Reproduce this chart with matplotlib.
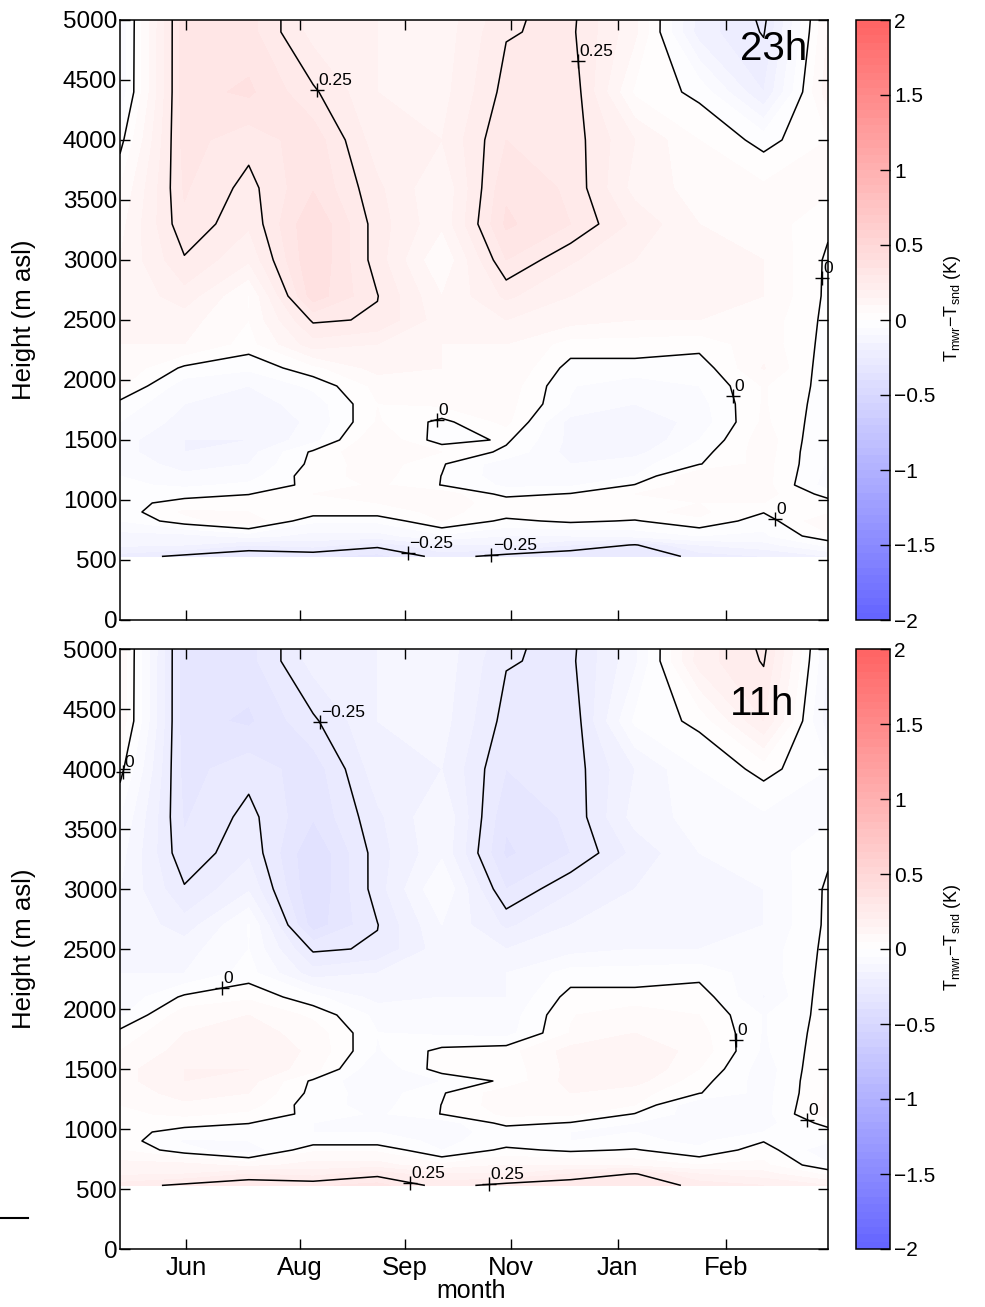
import numpy as np
import matplotlib
matplotlib.use("Agg")
import matplotlib.pyplot as plt
from matplotlib.colors import LinearSegmentedColormap
from matplotlib.lines import Line2D

plt.rcParams["font.family"] = ["Liberation Sans", "DejaVu Sans"]
plt.rcParams["mathtext.fontset"] = "custom"
plt.rcParams["mathtext.rm"] = "Liberation Sans"
plt.rcParams["mathtext.it"] = "Liberation Sans:italic"
plt.rcParams["axes.unicode_minus"] = True

# ---------------------------------------------------------------- data
# monthly columns (May ... Apr) and retrieval heights (m asl)
month_index = np.arange(12)
heights = np.array([530, 625, 700, 825, 900, 975, 1050, 1125, 1200, 1300,
                    1400, 1500, 1650, 1800, 1950, 2100, 2300, 2500, 2700,
                    3000, 3300, 3600, 4000, 4400, 4900, 5500])

# T_mwr - T_snd (K), night-time (23h) profiles, one row per height
dT_23h = np.array([
    [-0.222, -0.265, -0.300, -0.290, -0.320, -0.225, -0.273, -0.300, -0.300, -0.230, -0.200, -0.150],
    [-0.140, -0.150, -0.200, -0.180, -0.230, -0.160, -0.150, -0.200, -0.255, -0.150, -0.120, -0.037],
    [-0.120, -0.120, -0.080, -0.120, -0.120, -0.060, -0.100, -0.100, -0.080, -0.050, -0.060, 0.040],
    [-0.050, 0.031, 0.085, -0.040, -0.040, 0.051, -0.013, 0.011, -0.005, 0.042, -0.028, 0.094],
    [-0.030, 0.058, 0.050, 0.030, 0.030, 0.060, 0.030, 0.050, 0.040, 0.060, 0.003, 0.040],
    [-0.020, 0.020, 0.030, 0.050, 0.050, 0.060, 0.040, 0.050, 0.050, 0.050, 0.050, 0.020],
    [-0.050, -0.020, -0.002, 0.050, 0.060, 0.080, -0.020, 0.004, 0.050, 0.060, 0.070, -0.019],
    [-0.040, -0.060, -0.040, 0.016, 0.060, -0.002, -0.060, -0.060, 0.003, 0.080, 0.070, -0.076],
    [-0.050, -0.090, -0.070, 0.029, 0.070, -0.001, -0.080, -0.080, -0.050, 0.100, 0.070, -0.067],
    [-0.070, -0.120, -0.100, 0.016, 0.080, 0.005, -0.080, -0.100, -0.070, -0.003, 0.070, -0.057],
    [-0.080, -0.150, -0.120, 0.010, 0.100, 0.050, -0.013, -0.120, -0.120, -0.020, 0.075, -0.057],
    [-0.080, -0.150, -0.150, -0.070, 0.100, -0.030, 0.010, -0.115, -0.150, -0.050, 0.078, -0.052],
    [-0.050, -0.120, -0.140, -0.090, 0.055, -0.015, 0.064, -0.120, -0.140, -0.080, 0.060, -0.034],
    [-0.017, -0.100, -0.120, -0.080, 0.049, 0.060, 0.070, -0.053, -0.100, -0.070, 0.055, -0.026],
    [0.060, -0.080, -0.100, -0.038, 0.065, 0.080, 0.080, -0.047, -0.080, -0.050, 0.054, -0.020],
    [0.090, -0.010, -0.040, 0.035, 0.120, 0.100, 0.100, -0.020, -0.020, -0.031, 0.104, -0.033],
    [0.100, 0.100, 0.030, 0.180, 0.150, 0.100, 0.100, 0.030, 0.030, 0.020, 0.080, -0.020],
    [0.120, 0.120, 0.050, 0.260, 0.243, 0.120, 0.150, 0.120, 0.100, 0.100, 0.080, -0.015],
    [0.100, 0.180, 0.047, 0.380, 0.252, 0.100, 0.210, 0.150, 0.120, 0.120, 0.100, -0.012],
    [0.100, 0.244, 0.158, 0.400, 0.224, 0.050, 0.300, 0.207, 0.150, 0.120, 0.100, -0.010],
    [0.080, 0.290, 0.208, 0.399, 0.224, 0.110, 0.360, 0.300, 0.186, 0.100, 0.080, 0.010],
    [0.050, 0.306, 0.232, 0.345, 0.211, 0.103, 0.340, 0.290, 0.130, 0.080, 0.060, 0.060],
    [-0.020, 0.320, 0.270, 0.330, 0.170, 0.150, 0.300, 0.280, 0.150, 0.050, -0.020, 0.050],
    [-0.090, 0.330, 0.360, 0.260, 0.150, 0.130, 0.270, 0.290, 0.040, -0.015, -0.200, 0.130],
    [-0.093, 0.330, 0.320, 0.180, 0.150, 0.120, 0.246, 0.262, 0.112, -0.175, -0.255, 0.104],
    [-0.100, 0.330, 0.320, 0.180, 0.150, 0.120, 0.200, 0.280, 0.100, -0.150, -0.320, 0.080],
])

# T_mwr - T_snd (K), daytime (11h) profiles
dT_11h = np.array([
    [0.222, 0.265, 0.300, 0.290, 0.320, 0.225, 0.273, 0.300, 0.300, 0.230, 0.200, 0.150],
    [0.140, 0.150, 0.200, 0.180, 0.230, 0.160, 0.150, 0.200, 0.255, 0.150, 0.120, 0.037],
    [0.120, 0.120, 0.080, 0.120, 0.120, 0.060, 0.100, 0.100, 0.080, 0.050, 0.060, -0.040],
    [0.050, -0.031, -0.085, 0.040, 0.040, -0.051, 0.013, -0.011, 0.005, -0.042, 0.028, -0.094],
    [0.030, -0.058, -0.050, -0.030, -0.030, -0.060, -0.030, -0.050, -0.040, -0.060, -0.003, -0.040],
    [0.020, -0.020, -0.030, -0.050, -0.050, -0.060, -0.040, -0.050, -0.050, -0.050, -0.050, -0.020],
    [0.050, 0.020, 0.002, -0.050, -0.060, -0.080, 0.020, -0.004, -0.050, -0.060, -0.070, 0.019],
    [0.040, 0.060, 0.040, -0.016, -0.060, 0.002, 0.060, 0.060, -0.003, -0.080, -0.070, 0.076],
    [0.050, 0.090, 0.070, -0.029, -0.070, 0.001, 0.080, 0.080, 0.050, -0.100, -0.070, 0.067],
    [0.070, 0.120, 0.100, -0.016, -0.080, -0.005, 0.080, 0.100, 0.070, 0.003, -0.070, 0.057],
    [0.080, 0.150, 0.120, -0.010, -0.100, -0.050, 0.013, 0.120, 0.120, 0.020, -0.075, 0.057],
    [0.080, 0.150, 0.150, 0.070, -0.100, 0.030, 0.020, 0.115, 0.150, 0.050, -0.078, 0.052],
    [0.050, 0.120, 0.140, 0.090, -0.055, 0.015, 0.030, 0.120, 0.140, 0.080, -0.060, 0.034],
    [0.017, 0.100, 0.120, 0.080, -0.049, -0.060, -0.070, 0.053, 0.100, 0.070, -0.055, 0.026],
    [-0.060, 0.080, 0.100, 0.038, -0.065, -0.080, -0.080, 0.047, 0.080, 0.050, -0.054, 0.020],
    [-0.090, 0.010, 0.040, -0.035, -0.120, -0.100, -0.100, 0.020, 0.020, 0.031, -0.104, 0.033],
    [-0.100, -0.100, -0.030, -0.180, -0.150, -0.100, -0.100, -0.030, -0.030, -0.020, -0.080, 0.020],
    [-0.120, -0.120, -0.050, -0.260, -0.243, -0.120, -0.150, -0.120, -0.100, -0.100, -0.080, 0.015],
    [-0.100, -0.180, -0.047, -0.380, -0.252, -0.100, -0.210, -0.150, -0.120, -0.120, -0.100, 0.012],
    [-0.100, -0.244, -0.158, -0.400, -0.224, -0.050, -0.300, -0.207, -0.150, -0.120, -0.100, 0.010],
    [-0.080, -0.290, -0.208, -0.399, -0.224, -0.110, -0.360, -0.300, -0.186, -0.100, -0.080, -0.010],
    [-0.050, -0.306, -0.232, -0.345, -0.211, -0.103, -0.340, -0.290, -0.130, -0.080, -0.060, -0.060],
    [0.020, -0.320, -0.270, -0.330, -0.170, -0.150, -0.300, -0.280, -0.150, -0.050, 0.020, -0.050],
    [0.090, -0.330, -0.360, -0.260, -0.150, -0.130, -0.270, -0.290, -0.040, 0.015, 0.200, -0.130],
    [0.093, -0.330, -0.320, -0.180, -0.150, -0.120, -0.246, -0.262, -0.112, 0.175, 0.255, -0.104],
    [0.100, -0.330, -0.320, -0.180, -0.150, -0.120, -0.200, -0.280, -0.100, 0.150, 0.320, -0.080],
])

month_ticks = [1.03, 2.80, 4.43, 6.07, 7.73, 9.41]
month_labels = ["Jun", "Aug", "Sep", "Nov", "Jan", "Feb"]
line_levels = [-0.25, 0.0, 0.25]
cbar_ticks = [-2, -1.5, -1, -0.5, 0, 0.5, 1, 1.5, 2]

# contour labels: (level, approx. month, approx. height, text)
labels_23h = [(0.25, 3.06, 4417, "0.25"), (0.25, 7.10, 4667, "0.25"),
              (0.0, 4.92, 1690, "0"), (0.0, 9.49, 1867, "0"),
              (0.0, 10.92, 2850, "0"), (0.0, 10.18, 842, "0"),
              (-0.25, 4.46, 556, "\u22120.25"), (-0.25, 5.77, 542, "\u22120.25")]
labels_11h = [(-0.25, 3.10, 4383, "\u22120.25"), (0.0, 0.13, 3964, "0"),
              (0.0, 1.58, 2183, "0"), (0.0, 9.59, 1742, "0"),
              (0.0, 10.69, 1092, "0"), (0.25, 4.51, 558, "0.25"),
              (0.25, 5.73, 533, "0.25")]

# ---------------------------------------------------------------- style
cmap = LinearSegmentedColormap.from_list(
    "diff", [(0.39, 0.39, 1.0), (1.0, 1.0, 1.0), (1.0, 0.39, 0.39)])
fill_levels = np.linspace(-2, 2, 81)

W, H = 985, 1307
fig = plt.figure(figsize=(W / 100, H / 100), dpi=100)


def frac_box(x0, y0, x1, y1):
    return [x0 / W, 1 - y1 / H, (x1 - x0) / W, (y1 - y0) / H]


def label_contour(ax, cs, level, x0, h0, text):
    k = int(np.argmin(np.abs(np.asarray(cs.levels) - level)))
    best, best_d = None, np.inf
    for seg in cs.allsegs[k]:
        if len(seg) < 2:
            continue
        n = len(seg)
        s = np.linspace(0, n - 1, 30 * n)
        xs = np.interp(s, np.arange(n), seg[:, 0])
        ys = np.interp(s, np.arange(n), seg[:, 1])
        d = ((xs - x0) * 64.4) ** 2 + ((ys - h0) * 0.12) ** 2
        i = int(np.argmin(d))
        if d[i] < best_d:
            best_d, best = d[i], (xs[i], ys[i])
    if best is None:
        return
    ax.plot(best[0], best[1], marker="+", color="k", ms=10, mew=1.0,
            clip_on=False, zorder=5)
    ax.annotate(text, best, xytext=(1.0, 1.5), textcoords="offset points",
                fontsize=12.5, ha="left", va="bottom", zorder=6)


def panel(ax_box, cax_box, field, tag, tag_xy, labels, show_x):
    ax = fig.add_axes(frac_box(*ax_box))
    cax = fig.add_axes(frac_box(*cax_box))
    cf = ax.contourf(month_index, heights, field, levels=fill_levels,
                     cmap=cmap, vmin=-2, vmax=2)
    cs = ax.contour(month_index, heights, field, levels=line_levels,
                    colors="k", linewidths=1.1, linestyles="solid")
    for lev, mx, hh, txt in labels:
        label_contour(ax, cs, lev, mx, hh, txt)

    ax.set_xlim(0, 11)
    ax.set_ylim(0, 5000)
    ax.set_yticks(np.arange(0, 5001, 500))
    ax.set_xticks(month_ticks)
    ax.tick_params(direction="in", length=7, width=1.0, top=True, right=True,
                   labelsize=17.5, pad=2)
    if show_x:
        ax.set_xticklabels(month_labels)
        ax.tick_params(axis="x", labelsize=18.5, pad=5)
        ax.set_xlabel("month", fontsize=18)
        ax.xaxis.set_label_coords(0.496, -0.05)
    else:
        ax.set_xticklabels([])
    ax.set_ylabel("Height (m asl)", fontsize=18.5)
    ax.yaxis.set_label_coords(-0.118, 0.5)
    for sp in ax.spines.values():
        sp.set_linewidth(1.1)
    ax.text(tag_xy[0], tag_xy[1], tag, transform=ax.transAxes, fontsize=29,
            ha="right", va="baseline", zorder=7)

    cb = fig.colorbar(cf, cax=cax, ticks=cbar_ticks)
    cb.ax.set_yticklabels([("%g" % t).replace("-", "\u2212") for t in cbar_ticks])
    cb.ax.tick_params(direction="in", length=7, width=1.0, labelsize=15, pad=3)
    cb.outline.set_linewidth(1.1)
    cax.text(2.85, 0.52, r"T$_{\mathrm{mwr}}$$-$T$_{\mathrm{snd}}$ (K)",
             transform=cax.transAxes, rotation=90, ha="center", va="center",
             fontsize=13)
    return ax


panel((120, 20, 828, 620), (856, 20, 890, 620), dT_23h, "23h",
      (0.971, 0.933), labels_23h, False)
panel((120, 649, 828, 1249), (856, 649, 890, 1249), dT_11h, "11h",
      (0.953, 0.89), labels_11h, True)

fig.add_artist(Line2D([0, 28 / W], [1 - 1218 / H] * 2, color="k", lw=1.5))

fig.savefig("out.png", dpi=100)
